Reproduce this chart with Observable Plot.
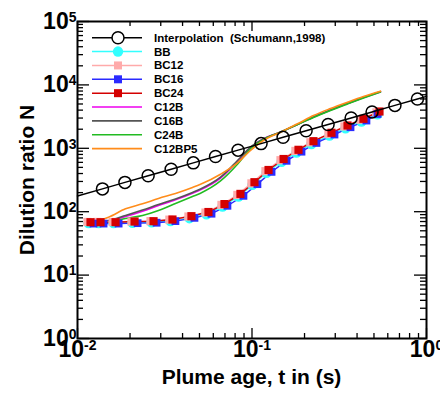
<!DOCTYPE html>
<html><head><meta charset="utf-8">
<script src="https://cdn.jsdelivr.net/npm/d3@7"></script>
<script src="https://cdn.jsdelivr.net/npm/@observablehq/plot@0.6"></script>
<style>html,body{margin:0;padding:0;background:#fff;} svg{display:block;}</style>
</head><body><div id="chart"></div>
<script>
// ---- tick values ----
const xMajor = [0.01, 0.1, 1];
const xMinor = [0.02,0.03,0.04,0.05,0.06,0.07,0.08,0.09,0.2,0.3,0.4,0.5,0.6,0.7,0.8,0.9];
const yMajor = [1, 10, 100, 1000, 10000, 100000];
const yMinor = [2,3,4,5,6,7,8,9,20,30,40,50,60,70,80,90,200,300,400,500,600,700,800,900,
  2000,3000,4000,5000,6000,7000,8000,9000,20000,30000,40000,50000,60000,70000,80000,90000];

// ---- Interpolation (Schumann, 1998) ----
const interpT = [0.0139,0.0187,0.0254,0.0344,0.0461,0.0618,0.0832,0.1127,0.1507,0.2042,0.2729,0.3698,0.4875,0.6592,0.8872];
const interpN = [229,290,369,467,589,741,935,1186,1489,1892,2377,3013,3750,4753,6000];
const interpEndT = [0.01, 1];
const interpEndN = [177, 6590];

// ---- BC series (markers) ----
const bc24T = [0.01187,0.01355,0.01652,0.02123,0.02728,0.03502,0.04498,0.05631,0.06955,0.08586,0.1033,0.1244,0.1517,0.1847,0.2250,0.2855,0.3527,0.4352,0.5379];
const bc24N = [68.3,68.3,68.3,70,70.8,75.3,85,98.9,132,191,292,455,678,947,1295,1757,2291,2919,3805];
const bbT = [0.01156,0.0132,0.01609,0.02068,0.02657,0.03411,0.04381,0.05485,0.06774,0.08363,0.1006,0.1212,0.1478,0.1799,0.2192,0.2781,0.3435,0.4239,0.5239];
const bbN = [66,66,66,67,68,71,79,91,121,174,265,412,613,855,1170,1590,2075,2650,3450];
const bc12T = [0.0114,0.0130,0.0159,0.0204,0.0262,0.0336,0.0432,0.0541,0.0668,0.0824,0.0992,0.1194,0.1456,0.1773,0.2160,0.2741,0.3386,0.4178,0.5164];
const bc12N = [69,69,69,70,71,75,84,97,128,184,280,436,650,910,1245,1690,2210,2820,3680];
const bc16T = [0.01235,0.0141,0.0172,0.0221,0.0284,0.0364,0.0468,0.0586,0.0723,0.0893,0.1074,0.1294,0.1578,0.1921,0.2340,0.2969,0.3668,0.4526,0.5240];
const bc16N = [65,65,65,66,67,71,80,93,124,178,272,425,635,885,1215,1650,2150,2740,3480];

// ---- C series (lines) ----
const cT = [0.01187,0.01506,0.01884,0.02358,0.02911,0.03643,0.04560,0.05069,0.06600,0.08256,0.09804,0.1164,0.1456,0.1823,0.2251,0.2818,0.3526,0.4355,0.5448];
const c12bN = [67.6,71.3,84.0,102,125,154,196,222,340,620,1030,1413,1795,2373,3119,4018,5093,6324,7727];
const c16bN = [67.6,72.7,87.1,106,130,159,201,228,350,640,1045,1402,1808,2373,3119,4018,5093,6324,7870];
const c24bN = [67.6,68.3,78.1,87.1,104.5,135,174,196,305,560,985,1376,1795,2373,3062,3948,5000,6212,7727];
const c12bp5N = [68.3,81.9,111,133,162,194,241,270,390,590,923,1327,1795,2434,3289,4245,5339,6561,7962];

// ---- legend ----
const legendNames = ["Interpolation  (Schumann,1998)","BB","BC12","BC16","BC24","C12B","C16B","C24B","C12BP5"];
const legendColors = ["#000000","#33ffff","#ffaaaa","#2a2aff","#d40000","#ee00ee","#555555","#22bb22","#ff8c1a"];
const legendSymbols = ["open","circle","square","square","square",null,null,null,null];

const zip = (ts, ns) => ts.map((t, i) => ({t, n: ns[i]}));
const interpLine = zip(interpEndT.slice(0,1).concat(interpT, interpEndT.slice(1)),
                       interpEndN.slice(0,1).concat(interpN, interpEndN.slice(1)));

const W = 440, H = 396, mL = 77, mR = 14, mT = 21, mB = 58;
const fw = W - mL - mR, fh = H - mT - mB;

const markerSeries = [
  {d: zip(bbT, bbN), c: legendColors[1], s: "circle", r: 5.2},
  {d: zip(bc12T, bc12N), c: legendColors[2], s: "square", r: 4.6},
  {d: zip(bc16T, bc16N), c: legendColors[3], s: "square", r: 4.4},
  {d: zip(bc24T, bc24N), c: legendColors[4], s: "square", r: 4.6}
];
const lineSeries = [
  {d: zip(cT, c12bN), c: legendColors[5]},
  {d: zip(cT, c16bN), c: legendColors[6]},
  {d: zip(cT, c24bN), c: legendColors[7]},
  {d: zip(cT, c12bp5N), c: legendColors[8]}
];

const plot = Plot.plot({
  width: W, height: H,
  marginLeft: mL, marginRight: mR, marginTop: mT, marginBottom: mB,
  style: {fontFamily: "'Liberation Sans', Arial, sans-serif", fontWeight: "bold", background: "#fff", color: "#000"},
  x: {type: "log", domain: [0.01, 1]},
  y: {type: "log", domain: [1, 100000]},
  marks: [
    // inward ticks on four sides
    Plot.tickX(xMajor, {x: d => d, insetTop: fh - 10, stroke: "#000", strokeWidth: 1.3}),
    Plot.tickX(xMinor, {x: d => d, insetTop: fh - 5, stroke: "#000", strokeWidth: 1.3}),
    Plot.tickX(xMajor, {x: d => d, insetBottom: fh - 10, stroke: "#000", strokeWidth: 1.3}),
    Plot.tickX(xMinor, {x: d => d, insetBottom: fh - 5, stroke: "#000", strokeWidth: 1.3}),
    Plot.tickY(yMajor, {y: d => d, insetRight: fw - 12, stroke: "#000", strokeWidth: 1.3}),
    Plot.tickY(yMinor, {y: d => d, insetRight: fw - 6, stroke: "#000", strokeWidth: 1.3}),
    Plot.tickY(yMajor, {y: d => d, insetLeft: fw - 12, stroke: "#000", strokeWidth: 1.3}),
    Plot.tickY(yMinor, {y: d => d, insetLeft: fw - 6, stroke: "#000", strokeWidth: 1.3}),
    Plot.axisX(xMajor, {tickSize: 0, tickPadding: 2, fontSize: 23, label: null,
      tickFormat: d => String(Math.round(Math.log10(d)))}),
    Plot.axisY(yMajor, {tickSize: 0, tickPadding: 1, fontSize: 23, label: null,
      tickFormat: d => String(Math.round(Math.log10(d)))}),
    // C lines
    ...lineSeries.map(s => Plot.line(s.d, {x: "t", y: "n", stroke: s.c, strokeWidth: 1.6, curve: "monotone-x"})),
    // BC series
    ...markerSeries.map(s => Plot.line(s.d, {x: "t", y: "n", stroke: s.c, strokeWidth: 1.4})),
    ...markerSeries.map(s => Plot.dot(s.d, {x: "t", y: "n", symbol: s.s, r: s.r, fill: s.c, stroke: "none"})),
    // Interpolation
    Plot.line(interpLine, {x: "t", y: "n", stroke: "#000", strokeWidth: 1.5}),
    Plot.dot(zip(interpT, interpN), {x: "t", y: "n", r: 6, stroke: "#000", strokeWidth: 1.5, fill: "none"}),
    Plot.frame({stroke: "#000", strokeWidth: 2})
  ]
});

// superscript exponents on tick labels
plot.querySelectorAll('g[aria-label="x-axis tick label"] text, g[aria-label="y-axis tick label"] text').forEach(t => {
  const e = t.textContent;
  t.textContent = "10";
  const ts = document.createElementNS("http://www.w3.org/2000/svg", "tspan");
  ts.setAttribute("dy", "-0.5em");
  ts.setAttribute("font-size", 14);
  ts.textContent = e;
  t.appendChild(ts);
});

const svg = d3.select(plot);
// axis titles
svg.append("text").attr("x", 251.5).attr("y", 384).attr("text-anchor", "middle")
  .attr("font-size", 21).attr("font-weight", "bold").text("Plume age, t in (s)");
svg.append("text").attr("transform", "translate(34,180) rotate(-90)").attr("text-anchor", "middle")
  .attr("font-size", 21).attr("font-weight", "bold").text("Dilution ratio N");

// legend
const lg = svg.append("g").attr("font-size", 11.5).attr("font-weight", "bold").attr("text-anchor", "start");
legendNames.forEach((name, i) => {
  const y = 37.7 + i * 13.87, c = legendColors[i], s = legendSymbols[i];
  lg.append("line").attr("x1", 92).attr("x2", 142).attr("y1", y).attr("y2", y)
    .attr("stroke", c).attr("stroke-width", i === 0 ? 1.5 : 1.6);
  if (s === "open") lg.append("circle").attr("cx", 118).attr("cy", y).attr("r", 6)
    .attr("fill", "#fff").attr("stroke", c).attr("stroke-width", 1.5);
  else if (s === "circle") lg.append("circle").attr("cx", 118).attr("cy", y).attr("r", 5.2).attr("fill", c);
  else if (s === "square") lg.append("rect").attr("x", 114).attr("y", y - 4).attr("width", 8).attr("height", 8).attr("fill", c);
  lg.append("text").attr("x", 154).attr("y", y).attr("dy", "0.35em").attr("text-anchor", "start").text(name);
});

document.getElementById("chart").appendChild(plot);
</script>
</body></html>
